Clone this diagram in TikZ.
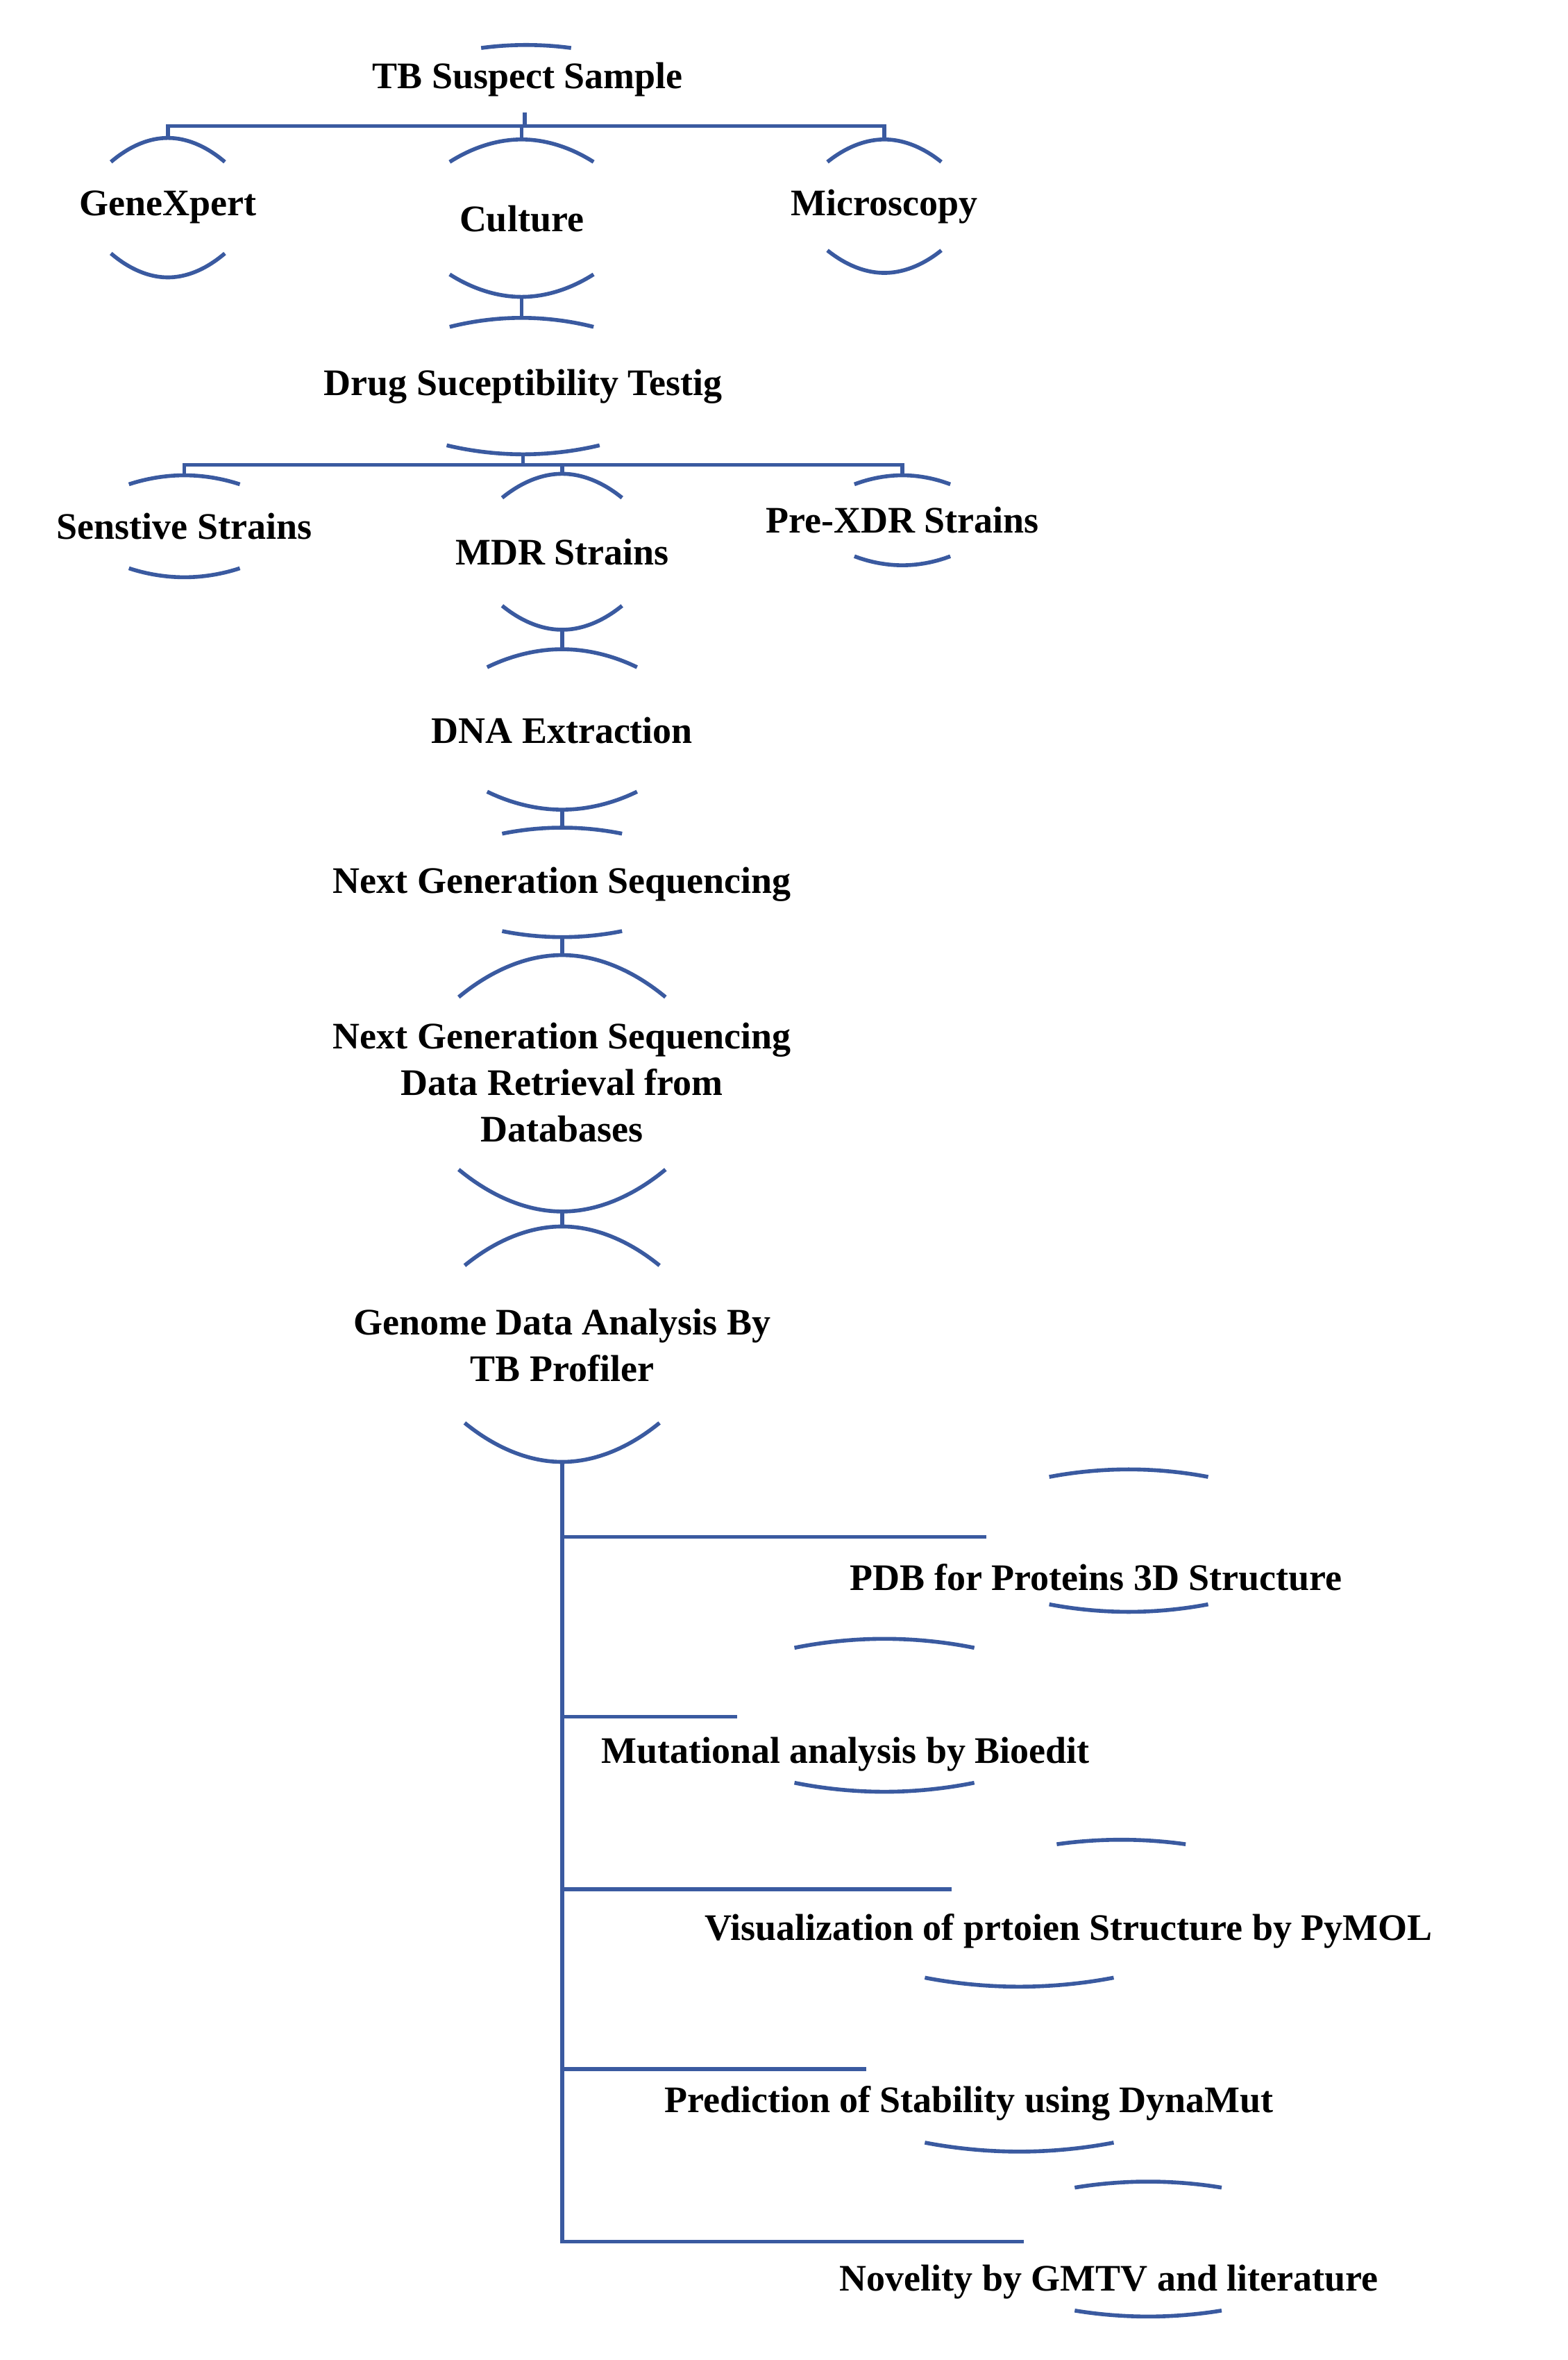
\documentclass[tikz,border=0pt]{standalone}
\usepackage{fontspec}
\setmainfont{Liberation Serif}
\begin{document}
\definecolor{fb}{RGB}{58,90,160}
\newcommand\myarc[4]{\draw[arc] (#1-#3,#2+#4) parabola bend (#1,#2) (#1+#3,#2+#4);}
\begin{tikzpicture}[x=1pt,y=-1pt,
  arc/.style={fb,line width=2.6pt},
  link/.style={fb,line width=2.6pt},
  lbl/.style={font=\fontsize{25}{32}\selectfont\bfseries,align=center,inner sep=0pt}]
\useasboundingbox (0,0) rectangle (1046,1574);
% nodes
\node[lbl] (ts) at (352,53) {TB Suspect Sample};
\node[lbl] (gx) at (112,138) {GeneXpert};
\node[lbl] (cu) at (348,146) {Culture};
\node[lbl] (mi) at (590,138) {Microscopy};
\node[lbl] (dst) at (349,258) {Drug Suceptibility Testig};
\node[lbl] (ss) at (123,351) {Senstive Strains};
\node[lbl] (mdr) at (375,368) {MDR Strains};
\node[lbl] (px) at (602,347) {Pre-XDR Strains};
\node[lbl] (dna) at (375,487) {DNA Extraction};
\node[lbl] (ngs) at (375,590) {Next Generation Sequencing};
\node[lbl] (ret) at (375,722) {Next Generation Sequencing\\[-1pt]Data Retrieval from\\[-1pt]Databases};
\node[lbl] (gda) at (375,897) {Genome Data Analysis By\\[-1pt]TB Profiler};
\node[lbl,anchor=west] (pdb) at (567,1052) {PDB for Proteins 3D Structure};
\node[lbl,anchor=west] (mut) at (401,1170) {Mutational analysis by Bioedit};
\node[lbl,anchor=west] (vis) at (470,1288) {Visualization of prtoien Structure by PyMOL};
\node[lbl,anchor=west] (pre) at (443,1403) {Prediction of Stability using DynaMut};
\node[lbl,anchor=west] (nov) at (560,1522) {Novelity by GMTV and literature};
% arcs (top: positive sag, bottom: negative sag)
\myarc{351}{30}{30}{2}
\myarc{112}{92}{38}{16}  \myarc{112}{185}{38}{-16}
\myarc{348}{93}{48}{15}  \myarc{348}{198}{48}{-15}
\myarc{590}{93}{38}{15}  \myarc{590}{182}{38}{-15}
\myarc{348}{212}{48}{6}  \myarc{349}{303}{51}{-6}
\myarc{123}{317}{37}{6}  \myarc{123}{385}{37}{-6}
\myarc{375}{316}{40}{16} \myarc{375}{420}{40}{-16}
\myarc{602}{317}{32}{6}  \myarc{602}{377}{32}{-6}
\myarc{375}{433}{50}{12} \myarc{375}{540}{50}{-12}
\myarc{375}{552}{40}{4}  \myarc{375}{625}{40}{-4}
\myarc{375}{637}{69}{28} \myarc{375}{808}{69}{-28}
\myarc{375}{818}{65}{26} \myarc{375}{975}{65}{-26}
\myarc{753}{980}{53}{5}  \myarc{753}{1075}{53}{-5}
\myarc{590}{1093}{60}{6} \myarc{590}{1195}{60}{-6}
\myarc{748}{1227}{43}{3} \myarc{680}{1325}{63}{-6}
\myarc{680}{1435}{63}{-6}
\myarc{766}{1455}{49}{4} \myarc{766}{1545}{49}{-4}
% connectors
\coordinate (tsb) at (350,75);
\draw[link] (tsb) -- (350,84);
\draw[link] (112,92) -- (112,84) -- (590,84) -- (590,93);
\draw[link] (348,84) -- (348,93);
\draw[link] (348,198) -- (348,212);
\draw[link] (349,303) -- (349,310);
\draw[link] (123,317) -- (123,310) -- (602,310) -- (602,317);
\draw[link] (375,310) -- (375,316);
\draw[link] (375,420) -- (375,433);
\draw[link] (375,540) -- (375,552);
\draw[link] (375,625) -- (375,637);
\draw[link] (375,808) -- (375,818);
\draw[link] (375,975) -- (375,1495) -- (683,1495);
\draw[link] (375,1025) -- (658,1025);
\draw[link] (375,1145) -- (492,1145);
\draw[link] (375,1260) -- (635,1260);
\draw[link] (375,1380) -- (578,1380);
\end{tikzpicture}
\end{document}
